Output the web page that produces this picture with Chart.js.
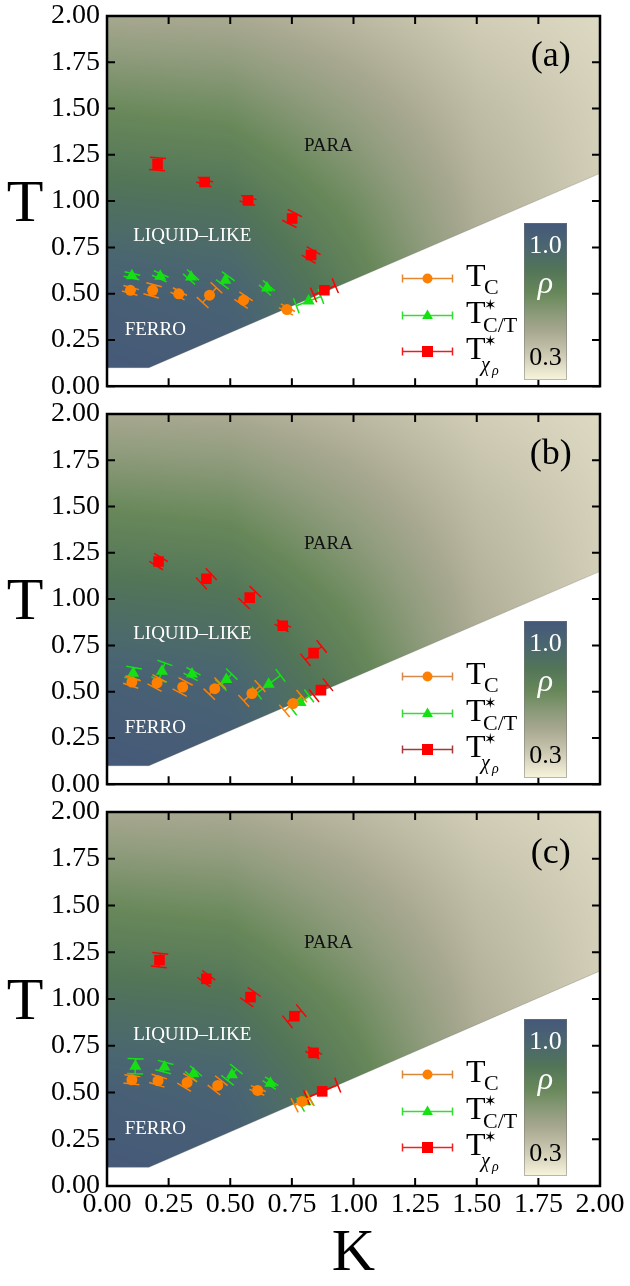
<!DOCTYPE html>
<html>
<head>
<meta charset="utf-8">
<script src="https://cdn.jsdelivr.net/npm/chart.js@4.4.1/dist/chart.umd.min.js"></script>
<style>
  body { margin: 0; background: #fff; width: 630px; height: 1286px; position: relative; overflow: hidden; }
  canvas { position: absolute; left: 0; }
</style>
</head>
<body>
<script>
// axis ticks
const kTicks = [0, 0.25, 0.5, 0.75, 1, 1.25, 1.5, 1.75, 2];
const tTicks = [0, 0.25, 0.5, 0.75, 1, 1.25, 1.5, 1.75, 2];

// edge of the coloured region (below it the plot is white)
const boundaryK = [0, 0.17, 2.0];
const boundaryT = [0.1, 0.1, 1.15];

const rhoK = [0, 0.5, 1, 1.5, 2];
const rhoT = [0, 0.5, 1, 1.5, 2];
const rhoGrid = [
  [1.00, 0.98, 0.79, 0.54, 0.43],
  [0.95, 0.92, 0.74, 0.52, 0.42],
  [0.82, 0.80, 0.66, 0.49, 0.40],
  [0.68, 0.66, 0.56, 0.45, 0.39],
  [0.52, 0.51, 0.46, 0.40, 0.37]
];
// colour bar
const cmapRho = [0.3, 0.405, 0.51, 0.594, 0.685, 0.79, 0.895, 1.0];
const cmapColor = [[248,245,221],[207,203,181],[170,169,146],[140,154,122],[104,136,90],[82,117,88],[74,102,112],[69,88,122]];

// ---- panel (a)
const aTcK = [0.095, 0.185, 0.291, 0.416, 0.554, 0.730];
const aTcT = [0.518, 0.518, 0.499, 0.492, 0.465, 0.414];
const aTcErr = [[0.003,0.015],[0.006,0.030],[0.005,0.012],[0.028,0.040],[0.010,0.020],[0.004,0.010]];
const aTctK = [0.101, 0.216, 0.341, 0.480, 0.649, 0.818];
const aTctT = [0.597, 0.594, 0.590, 0.572, 0.531, 0.460];
const aTctErr = [[0.002,0.012],[0.004,0.012],[0.008,0.012],[0.012,0.022],[0.008,0.012],[0.050,0.025]];
const aTxK = [0.205, 0.396, 0.572, 0.751, 0.828, 0.882];
const aTxT = [1.200, 1.103, 1.004, 0.906, 0.709, 0.518];
const aTxErr = [[0.002,0.033],[0.003,0.013],[0.003,0.015],[0.011,0.029],[0.010,0.023],[0.044,0.025]];

// ---- panel (b)
const bTcK = [0.101, 0.203, 0.307, 0.437, 0.588, 0.755];
const bTcT = [0.552, 0.547, 0.525, 0.516, 0.490, 0.436];
const bTcErr = [[0.005,0.020],[0.010,0.025],[0.012,0.030],[0.022,0.030],[0.033,0.040],[0.035,0.040]];
const bTctK = [0.106, 0.223, 0.345, 0.484, 0.656, 0.785];
const bTctT = [0.600, 0.610, 0.595, 0.565, 0.540, 0.442];
const bTctErr = [[0.004,0.030],[0.012,0.045],[0.006,0.015],[0.022,0.030],[0.048,0.048],[0.035,0.035]];
const bTxK = [0.209, 0.403, 0.579, 0.713, 0.838, 0.868];
const bTxT = [1.203, 1.110, 1.008, 0.856, 0.708, 0.508];
const bTxErr = [[0.010,0.022],[0.020,0.025],[0.023,0.032],[0.005,0.012],[0.033,0.036],[0.028,0.030]];

// ---- panel (c)
const cTcK = [0.101, 0.207, 0.325, 0.449, 0.611, 0.791];
const cTcT = [0.568, 0.563, 0.554, 0.538, 0.511, 0.452];
const cTcErr = [[0.002,0.022],[0.005,0.022],[0.012,0.026],[0.015,0.025],[0.003,0.010],[0.030,0.020]];
const cTctK = [0.115, 0.233, 0.351, 0.507, 0.663, 0.805];
const cTctT = [0.640, 0.636, 0.600, 0.595, 0.550, 0.450];
const cTctErr = [[0.001,0.040],[0.005,0.025],[0.010,0.015],[0.018,0.030],[0.005,0.010],[0.020,0.015]];
const cTxK = [0.213, 0.403, 0.582, 0.760, 0.838, 0.873];
const cTxT = [1.208, 1.108, 1.010, 0.908, 0.712, 0.506];
const cTxErr = [[0.003,0.036],[0.010,0.018],[0.015,0.028],[0.028,0.030],[0.005,0.012],[0.063,0.034]];

const SERIF = 'Liberation Serif';
const ORANGE = '#ff8000', GREEN = '#14e014', RED = '#ff0000';

Chart.defaults.font.family = SERIF;
Chart.defaults.font.size = 28;
Chart.defaults.color = '#000';

// text placed in data coordinates
const regionText = ['PARA', 'LIQUID\u2013LIKE', 'FERRO'];
const regionAt = [[0.898, 1.30], [0.346, 0.81], [0.196, 0.306]];
const regionColor = ['#111', '#fff', '#fff'];

function lerp(a, b, f) { return a + (b - a) * f; }

function findCell(arr, v) {
  let i = 0;
  while (i < arr.length - 2 && v > arr[i + 1]) i++;
  const f = Math.min(Math.max((v - arr[i]) / (arr[i + 1] - arr[i]), 0), 1);
  return [i, f];
}

function rhoAt(k, t) {
  const [i, fi] = findCell(rhoK, k);
  const [j, fj] = findCell(rhoT, t);
  const top = lerp(rhoGrid[j][i], rhoGrid[j][i + 1], fi);
  const bot = lerp(rhoGrid[j + 1][i], rhoGrid[j + 1][i + 1], fi);
  return lerp(top, bot, fj);
}

function rhoColor(r) {
  r = Math.min(Math.max(r, cmapRho[0]), 1);
  const [j, f] = findCell(cmapRho, r);
  const a = cmapColor[j], b = cmapColor[j + 1];
  return [lerp(a[0], b[0], f), lerp(a[1], b[1], f), lerp(a[2], b[2], f)];
}

function buildBackground(chart) {
  const {chartArea: a, scales: {x, y}} = chart;
  const w = Math.round(a.right - a.left), h = Math.round(a.bottom - a.top);
  const off = document.createElement('canvas');
  off.width = w; off.height = h;
  const c = off.getContext('2d');
  const img = c.createImageData(w, h);
  for (let j = 0; j < h; j++) {
    const t = y.getValueForPixel(a.top + j + 0.5);
    for (let i = 0; i < w; i++) {
      const k = x.getValueForPixel(a.left + i + 0.5);
      const col = rhoColor(rhoAt(k, t));
      const o = (j * w + i) * 4;
      img.data[o] = col[0]; img.data[o + 1] = col[1]; img.data[o + 2] = col[2]; img.data[o + 3] = 255;
    }
  }
  c.putImageData(img, 0, 0);
  return off;
}

function drawMarker(ctx, style, x, y, r, color) {
  ctx.fillStyle = color;
  ctx.beginPath();
  if (style === 'circle') {
    ctx.arc(x, y, r, 0, Math.PI * 2);
  } else if (style === 'triangle') {
    ctx.moveTo(x, y - r);
    ctx.lineTo(x + r * 0.9, y + r * 0.6);
    ctx.lineTo(x - r * 0.9, y + r * 0.6);
    ctx.closePath();
  } else {
    ctx.rect(x - r, y - r, 2 * r, 2 * r);
  }
  ctx.fill();
}

const decor = {
  id: 'decor',
  beforeDatasetsDraw(chart) {
    const {ctx, chartArea: a, scales: {x, y}} = chart;
    if (!chart.$bg) chart.$bg = buildBackground(chart);
    ctx.save();
    ctx.drawImage(chart.$bg, a.left, a.top);
    // white area under the boundary
    ctx.beginPath();
    ctx.moveTo(x.getPixelForValue(boundaryK[0]), y.getPixelForValue(0));
    boundaryK.forEach((k, i) => ctx.lineTo(x.getPixelForValue(k), y.getPixelForValue(boundaryT[i])));
    ctx.lineTo(x.getPixelForValue(boundaryK[boundaryK.length - 1]), y.getPixelForValue(0));
    ctx.closePath();
    ctx.fillStyle = '#fff';
    ctx.fill();
    ctx.beginPath();
    boundaryK.forEach((k, i) => ctx.lineTo(x.getPixelForValue(k), y.getPixelForValue(boundaryT[i])));
    ctx.strokeStyle = 'rgba(90,90,80,0.35)';
    ctx.lineWidth = 0.8;
    ctx.stroke();
    // region names
    ctx.font = '19px ' + SERIF;
    ctx.textAlign = 'center';
    ctx.textBaseline = 'middle';
    regionText.forEach((s, i) => {
      ctx.fillStyle = regionColor[i];
      ctx.fillText(s, x.getPixelForValue(regionAt[i][0]), y.getPixelForValue(regionAt[i][1]));
    });
    ctx.restore();
  },
  beforeDatasetDraw(chart, args) {
    const {ctx, chartArea: a, scales: {x, y}} = chart;
    const ds = chart.data.datasets[args.index];
    ctx.save();
    ctx.beginPath();
    ctx.rect(a.left, a.top, a.width, a.height);
    ctx.clip();
    ctx.strokeStyle = ds.borderColor;
    ctx.lineWidth = 1.5;
    const cap = 8;
    ds.data.forEach(p => {
      const x0 = x.getPixelForValue(p.x - p.ek), y0 = y.getPixelForValue(p.y - p.et);
      const x1 = x.getPixelForValue(p.x + p.ek), y1 = y.getPixelForValue(p.y + p.et);
      const len = Math.hypot(x1 - x0, y1 - y0) || 1;
      const nx = -(y1 - y0) / len * cap, ny = (x1 - x0) / len * cap;
      ctx.beginPath();
      ctx.moveTo(x0, y0); ctx.lineTo(x1, y1);
      ctx.moveTo(x0 - nx, y0 - ny); ctx.lineTo(x0 + nx, y0 + ny);
      ctx.moveTo(x1 - nx, y1 - ny); ctx.lineTo(x1 + nx, y1 + ny);
      ctx.stroke();
    });
    ctx.restore();
  },
  afterDraw(chart, args, opts) {
    const {ctx, chartArea: a, scales: {x, y}} = chart;
    ctx.save();
    // frame and inward ticks
    ctx.strokeStyle = '#000';
    ctx.lineWidth = 2.5;
    ctx.strokeRect(a.left, a.top, a.right - a.left, a.bottom - a.top);
    ctx.lineWidth = 2;
    ctx.beginPath();
    kTicks.forEach(v => {
      const px = x.getPixelForValue(v);
      ctx.moveTo(px, a.bottom); ctx.lineTo(px, a.bottom - 8);
      ctx.moveTo(px, a.top); ctx.lineTo(px, a.top + 8);
    });
    tTicks.forEach(v => {
      const py = y.getPixelForValue(v);
      ctx.moveTo(a.left, py); ctx.lineTo(a.left + 8, py);
      ctx.moveTo(a.right, py); ctx.lineTo(a.right - 8, py);
    });
    ctx.stroke();

    // panel tag
    ctx.fillStyle = '#000';
    ctx.font = '36px ' + SERIF;
    ctx.textAlign = 'center';
    ctx.textBaseline = 'middle';
    ctx.fillText(opts.tag, x.getPixelForValue(1.80), y.getPixelForValue(1.78));

    // axis titles
    ctx.font = '60px ' + SERIF;
    ctx.textBaseline = 'alphabetic';
    ctx.fillText('T', 25, (a.top + a.bottom) / 2 + 20);
    if (opts.showK) ctx.fillText('K', (a.left + a.right) / 2, a.bottom + 84);

    // legend
    const styles = ['circle', 'triangle', 'rect'];
    const fills = [ORANGE, GREEN, RED];
    const sizes = [5, 6, 5.5];
    const rows = [262.5, 299.5, 335.5];
    const mx = a.right - 172.5, tx = a.right - 134;
    rows.forEach((ry, r) => {
      const yy = a.top + ry;
      ctx.strokeStyle = opts.legendLines[r];
      ctx.lineWidth = 1.5;
      ctx.beginPath();
      ctx.moveTo(mx - 25, yy); ctx.lineTo(mx + 25, yy);
      ctx.moveTo(mx - 25, yy - 4); ctx.lineTo(mx - 25, yy + 4);
      ctx.moveTo(mx + 25, yy - 4); ctx.lineTo(mx + 25, yy + 4);
      ctx.stroke();
      drawMarker(ctx, styles[r], mx, yy, sizes[r], fills[r]);
      ctx.fillStyle = '#000';
      ctx.textAlign = 'left';
      ctx.font = '32px ' + SERIF;
      ctx.fillText('T', tx, yy + 7);
      if (r === 0) {
        ctx.font = '22px ' + SERIF;
        ctx.fillText('C', tx + 18, yy + 15);
      } else {
        ctx.font = '15px "DejaVu Sans"';
        ctx.fillText('\u2736', tx + 18, yy - 6);
        if (r === 1) {
          ctx.font = '22px ' + SERIF;
          ctx.fillText('C/T', tx + 17, yy + 16);
        } else {
          ctx.font = 'italic 20px ' + SERIF;
          ctx.fillText('\u03c7', tx + 15, yy + 19);
          ctx.font = 'italic 14px ' + SERIF;
          ctx.fillText('\u03c1', tx + 26, yy + 23);
        }
      }
    });

    // colour bar
    const cbL = a.right - 76, cbR = a.right - 33, cbT = a.top + 207, cbB = a.top + 364;
    const g = ctx.createLinearGradient(0, cbT, 0, cbB);
    cmapRho.forEach((v, j) => {
      const c = cmapColor[j];
      g.addColorStop((1 - v) / 0.7, 'rgb(' + c[0] + ',' + c[1] + ',' + c[2] + ')');
    });
    ctx.fillStyle = g;
    ctx.fillRect(cbL, cbT, cbR - cbL, cbB - cbT);
    ctx.strokeStyle = 'rgba(120,120,120,0.5)';
    ctx.lineWidth = 1;
    ctx.strokeRect(cbL + 0.5, cbT + 0.5, cbR - cbL - 1, cbB - cbT - 1);
    const cx = (cbL + cbR) / 2;
    ctx.textAlign = 'center';
    ctx.fillStyle = '#fff';
    ctx.font = '26px ' + SERIF;
    ctx.fillText('1.0', cx, a.top + 237);
    ctx.font = 'italic 32px ' + SERIF;
    ctx.fillText('\u03c1', cx, a.top + 277);
    ctx.fillStyle = '#000';
    ctx.font = '26px ' + SERIF;
    ctx.fillText('0.3', cx, a.top + 349);
    ctx.restore();
  }
};

function pts(K, T, err) {
  return K.map((k, i) => ({x: k, y: T[i], ek: err[i][0], et: err[i][1]}));
}

function makePanel(cfg) {
  const cv = document.createElement('canvas');
  cv.width = 630;
  cv.height = cfg.h;
  cv.style.top = cfg.top + 'px';
  document.body.appendChild(cv);
  return new Chart(cv, {
    type: 'scatter',
    data: {
      datasets: [
        {label: 'T_C', data: pts(cfg.tcK, cfg.tcT, cfg.tcErr), pointStyle: 'circle', pointRadius: 5.5,
         backgroundColor: ORANGE, borderColor: ORANGE, borderWidth: 0, order: 0},
        {label: 'T*_C/T', data: pts(cfg.tctK, cfg.tctT, cfg.tctErr), pointStyle: 'triangle', pointRadius: 7,
         backgroundColor: GREEN, borderColor: GREEN, borderWidth: 0, order: 2},
        {label: 'T*_chi', data: pts(cfg.txK, cfg.txT, cfg.txErr), pointStyle: 'rect', pointRadius: 7.5,
         backgroundColor: RED, borderColor: RED, borderWidth: 0, order: 1}
      ]
    },
    options: {
      responsive: false,
      animation: false,
      events: [],
      layout: {padding: {top: cfg.padTop, bottom: cfg.padBottom, left: 0, right: 30}},
      plugins: {
        legend: {display: false},
        tooltip: {enabled: false},
        decor: {tag: cfg.tag, showK: cfg.showK, legendLines: cfg.legendLines}
      },
      scales: {
        x: {
          type: 'linear', min: 0, max: 2, display: cfg.showK,
          afterBuildTicks: s => { s.ticks = kTicks.map(v => ({value: v})); },
          afterFit: s => { s.height = cfg.showK ? 100 : 0; },
          grid: {display: false, drawTicks: false},
          border: {display: false},
          ticks: {font: {family: SERIF, size: 28}, color: '#000', padding: 2, maxRotation: 0, autoSkip: false,
                  callback: v => v.toFixed(2)}
        },
        y: {
          type: 'linear', min: 0, max: 2,
          afterBuildTicks: s => { s.ticks = tTicks.map(v => ({value: v})); },
          afterFit: s => { s.width = 107; },
          grid: {display: false, drawTicks: false},
          border: {display: false},
          ticks: {font: {family: SERIF, size: 28}, color: '#000', padding: 7, autoSkip: false,
                  callback: v => v.toFixed(2)}
        }
      }
    },
    plugins: [decor]
  });
}

makePanel({tag: '(a)', top: -10, h: 420, padTop: 26, padBottom: 21, showK: false,
  tcK: aTcK, tcT: aTcT, tcErr: aTcErr, tctK: aTctK, tctT: aTctT, tctErr: aTctErr, txK: aTxK, txT: aTxT, txErr: aTxErr,
  legendLines: ['#e8862e', '#33dd33', '#ee1c1c']});
makePanel({tag: '(b)', top: 388, h: 420, padTop: 26, padBottom: 21, showK: false,
  tcK: bTcK, tcT: bTcT, tcErr: bTcErr, tctK: bTctK, tctT: bTctT, tctErr: bTctErr, txK: bTxK, txT: bTxT, txErr: bTxErr,
  legendLines: ['#d48a4a', '#3ad93a', '#a83838']});
makePanel({tag: '(c)', top: 786, h: 500, padTop: 26, padBottom: 0, showK: true,
  tcK: cTcK, tcT: cTcT, tcErr: cTcErr, tctK: cTctK, tctT: cTctT, tctErr: cTctErr, txK: cTxK, txT: cTxT, txErr: cTxErr,
  legendLines: ['#d88a3a', '#33dd33', '#ee2222']});
</script>
</body>
</html>
